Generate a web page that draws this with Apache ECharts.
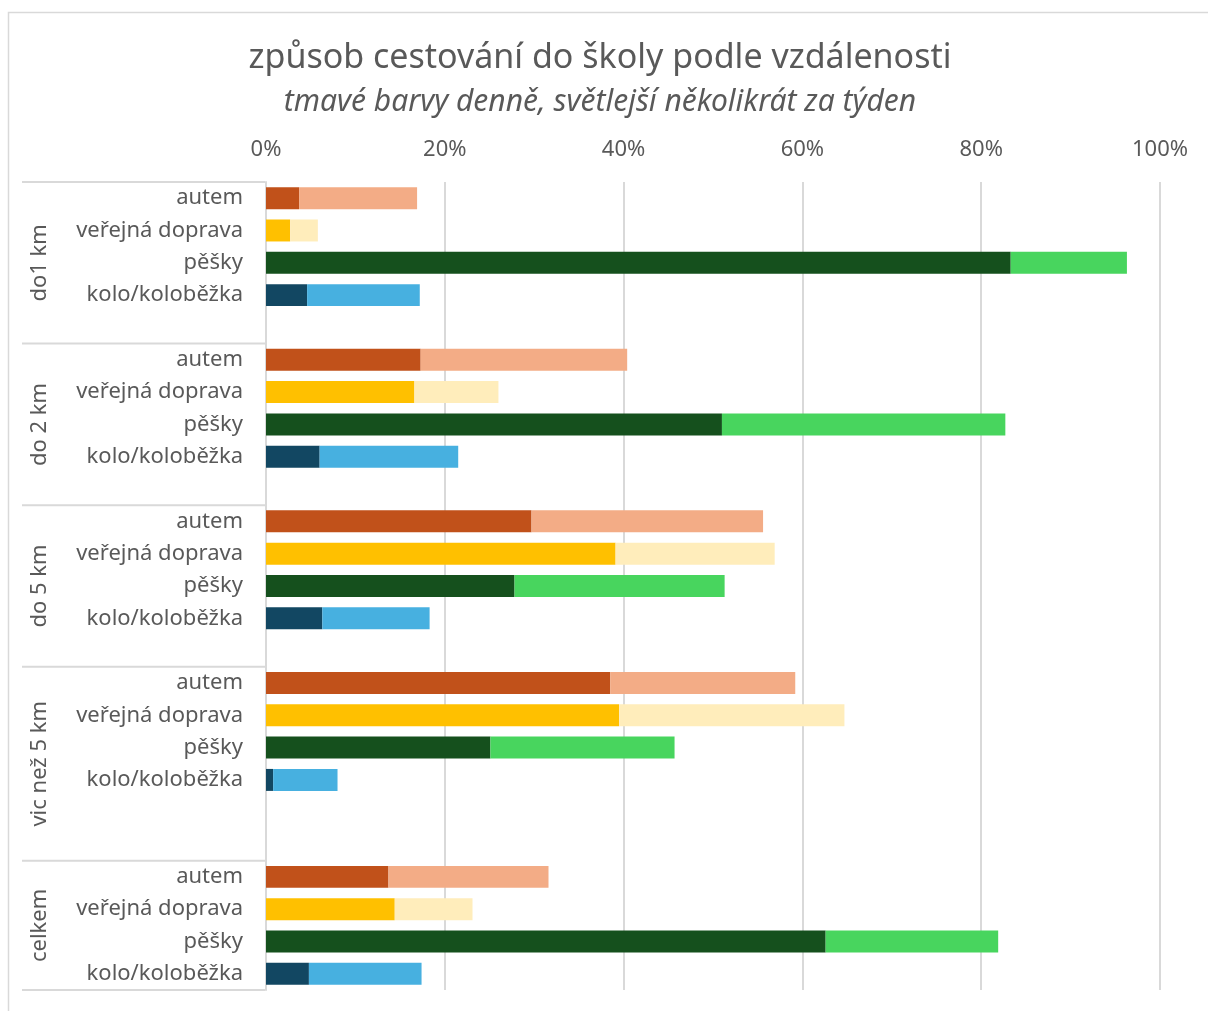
<!DOCTYPE html>
<html>
<head>
<meta charset="utf-8">
<script src="https://cdn.jsdelivr.net/npm/echarts@6/dist/echarts.min.js"></script>
<style>
	html, body { margin: 0; padding: 0; background: #fff; }
	#chart { width: 1208px; height: 1011px; }
</style>
</head>
<body>
<div id="chart"></div>
<script>
const groups = ['do1 km', 'do 2 km', 'do 5 km', 'vic než 5 km', 'celkem']
const modes = ['autem', 'veřejná doprava', 'pěšky', 'kolo/koloběžka']
// prazdne radky za skupinou
const gapRows = [1, 1, 1, 2, 0]
const xTicks = [0, 20, 40, 60, 80, 100]

// tmave = denne, svetle = nekolikrat za tyden (v %)
const autemDenne = [3.7, 17.3, 29.7, 38.5, 13.7]
const autemTydne = [13.2, 23.1, 25.9, 20.7, 17.9]
const dopravaDenne = [2.7, 16.6, 39.1, 39.5, 14.4]
const dopravaTydne = [3.1, 9.4, 17.8, 25.2, 8.7]
const peskyDenne = [83.3, 51.0, 27.8, 25.1, 62.6]
const peskyTydne = [13.0, 31.7, 23.5, 20.6, 19.3]
const koloDenne = [4.6, 6.0, 6.3, 0.8, 4.8]
const koloTydne = [12.6, 15.5, 12.0, 7.2, 12.6]

const darkColors = ['#C1511A', '#FFC000', '#15501D', '#124762']
const lightColors = ['#F3AC86', '#FFEDBB', '#48D55E', '#47B0E0']
const textColor = '#595959'
const lineColor = '#d9d9d9'
const font = 'Noto Sans'

const denne = [autemDenne, dopravaDenne, peskyDenne, koloDenne]
const tydne = [autemTydne, dopravaTydne, peskyTydne, koloTydne]

const categories = []
const rows = []
const groupRange = []
groups.forEach((g, gi) => {
	const start = categories.length
	modes.forEach((m, mi) => {
		categories.push(m)
		rows.push({ gi, mi })
	})
	for (let i = 0; i < gapRows[gi]; i++) {
		categories.push('')
		rows.push(null)
	}
	groupRange.push([start, categories.length - 1])
})

const rowData = (values, mi) =>
	rows.map((r) => (r && r.mi === mi ? values[r.gi] : '-'))

const series = []
modes.forEach((m, mi) => {
	series.push({
		name: m + ' denně',
		type: 'bar',
		stack: 'all',
		barCategoryGap: '32%',
		itemStyle: { color: darkColors[mi] },
		data: rowData(denne[mi], mi),
	})
	series.push({
		name: m + ' několikrát za týden',
		type: 'bar',
		stack: 'all',
		barCategoryGap: '32%',
		itemStyle: { color: lightColors[mi] },
		data: rowData(tydne[mi], mi),
	})
})

const myChart = echarts.init(document.getElementById('chart'))
myChart.setOption({
	animation: false,
	textStyle: { fontFamily: font },
	title: [
		{
			text: 'způsob cestování do školy podle vzdálenosti',
			left: 595,
			top: 36,
			textAlign: 'center',
			textStyle: { fontSize: 34, fontWeight: 'normal', color: textColor, fontFamily: font },
		},
		{
			text: 'tmavé barvy denně, světlejší několikrát za týden',
			left: 595,
			top: 82,
			textAlign: 'center',
			textStyle: { fontSize: 30, fontWeight: 'normal', fontStyle: 'italic', color: textColor, fontFamily: font },
		},
	],
	grid: { left: 266, right: 48, top: 182, bottom: 21, containLabel: false },
	xAxis: {
		type: 'value',
		position: 'top',
		min: xTicks[0],
		max: xTicks[xTicks.length - 1],
		interval: 20,
		axisLine: { show: false },
		axisTick: { show: false },
		axisLabel: {
			fontSize: 22,
			color: textColor,
			margin: 21,
			formatter: (v) => v + '%',
		},
		splitLine: { lineStyle: { color: lineColor, width: 2 } },
	},
	yAxis: {
		type: 'category',
		inverse: true,
		data: categories,
		axisTick: { show: false },
		axisLine: { lineStyle: { color: lineColor, width: 2 } },
		axisLabel: {
			interval: 0,
			fontSize: 22,
			color: textColor,
			margin: 23,
		},
	},
	series: series,
})

// popisky skupin a oddelovace
const yPx = (i) => myChart.convertToPixel({ yAxisIndex: 0 }, i)
const band = yPx(1) - yPx(0)
const graphic = [
	{
		type: 'rect',
		shape: { x: 8.5, y: 12.5, width: 1220, height: 1020 },
		style: { fill: 'none', stroke: lineColor, lineWidth: 1.5 },
		silent: true,
	},
]
groupRange.forEach(([s, e], gi) => {
	const top = yPx(s) - band / 2
	const bottom = yPx(e) + band / 2
	graphic.push({
		type: 'line',
		shape: { x1: 22, y1: top, x2: 265, y2: top },
		style: { stroke: lineColor, lineWidth: 2 },
		silent: true,
	})
	if (gi === groups.length - 1) {
		graphic.push({
			type: 'line',
			shape: { x1: 22, y1: bottom, x2: 265, y2: bottom },
			style: { stroke: lineColor, lineWidth: 2 },
			silent: true,
		})
	}
	graphic.push({
		type: 'text',
		x: 40,
		y: (top + bottom) / 2,
		rotation: Math.PI / 2,
		style: {
			text: groups[gi],
			fontSize: 22,
			fontFamily: font,
			fill: textColor,
			align: 'center',
			verticalAlign: 'middle',
		},
		silent: true,
	})
})
myChart.setOption({ graphic })
</script>
</body>
</html>
